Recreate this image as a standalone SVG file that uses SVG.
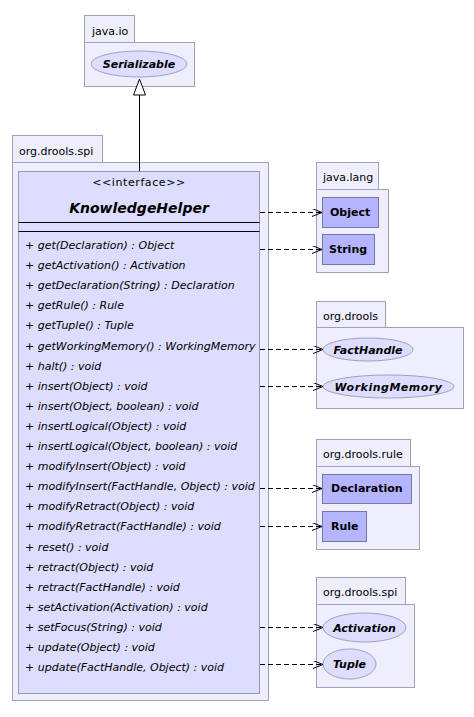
<svg xmlns="http://www.w3.org/2000/svg" width="474" height="717" viewBox="0 0 474 717">
<style>
.pkg{fill:#EEEEFC;stroke:#A0A0B8;stroke-width:1}
.tab{fill:#EEEEFC;stroke:#A0A0B8;stroke-width:1}
.plabel{font-family:"DejaVu Sans",sans-serif;font-size:11px;fill:#000}
.cls{fill:#B4B4FF;stroke:#7878A8;stroke-width:1}
.ell{fill:#DDDDFF;stroke:#A0A0C0;stroke-width:1}
.cname{font-family:"DejaVu Sans",sans-serif;font-size:11px;font-weight:bold;fill:#000}
.iname{font-family:"DejaVu Sans",sans-serif;font-size:11px;font-weight:bold;font-style:italic;fill:#000}
.iface{fill:#DDDDFF;stroke:#9898B0;stroke-width:1}
.m{font-family:"DejaVu Sans",sans-serif;font-size:11px;font-style:italic;fill:#000}
.dep{fill:none;stroke:#000;stroke-width:1;stroke-dasharray:5,3;marker-end:url(#open)}
</style>
<defs>
<marker id="open" markerUnits="userSpaceOnUse" markerWidth="12" markerHeight="10" refX="10" refY="4" orient="auto">
<path d="M0,0 L10,4 L0,8" fill="none" stroke="#000" stroke-width="1"/>
</marker>
</defs>

<g id="pkg-java-io">
<rect class="tab" x="84.5" y="15.5" width="50" height="27"/>
<rect class="pkg" x="84.5" y="42.5" width="110" height="44"/>
<text class="plabel" x="92" y="35">java.io</text>
</g>
<g id="Serializable">
<ellipse class="ell" cx="139" cy="64" rx="48" ry="13"/>
<text class="iname" x="139" y="68" text-anchor="middle">Serializable</text>
</g>

<g id="pkg-org-drools-spi">
<rect class="tab" x="12.5" y="135.5" width="90" height="27"/>
<rect class="pkg" x="12.5" y="162.5" width="256" height="538"/>
<text class="plabel" x="19" y="155">org.drools.spi</text>
</g>

<g id="KnowledgeHelper">
<rect class="iface" x="18.5" y="171.5" width="241" height="522"/>
<text class="plabel" x="139" y="186" text-anchor="middle" letter-spacing="0.6">&lt;&lt;interface&gt;&gt;</text>
<text class="iname" x="139" y="213" text-anchor="middle" style="font-size:14px">KnowledgeHelper</text>
<line x1="18.5" y1="222.5" x2="259.5" y2="222.5" stroke="#000"/>
<line x1="18.5" y1="231.5" x2="259.5" y2="231.5" stroke="#000"/>
<text class="m" x="25" y="249">+ get(Declaration) : Object</text>
<text class="m" x="25" y="269.1">+ getActivation() : Activation</text>
<text class="m" x="25" y="289.2">+ getDeclaration(String) : Declaration</text>
<text class="m" x="25" y="309.3">+ getRule() : Rule</text>
<text class="m" x="25" y="329.4">+ getTuple() : Tuple</text>
<text class="m" x="25" y="349.5">+ getWorkingMemory() : WorkingMemory</text>
<text class="m" x="25" y="369.6">+ halt() : void</text>
<text class="m" x="25" y="389.7">+ insert(Object) : void</text>
<text class="m" x="25" y="409.8">+ insert(Object, boolean) : void</text>
<text class="m" x="25" y="429.9">+ insertLogical(Object) : void</text>
<text class="m" x="25" y="450">+ insertLogical(Object, boolean) : void</text>
<text class="m" x="25" y="470.1">+ modifyInsert(Object) : void</text>
<text class="m" x="25" y="490.2">+ modifyInsert(FactHandle, Object) : void</text>
<text class="m" x="25" y="510.3">+ modifyRetract(Object) : void</text>
<text class="m" x="25" y="530.4">+ modifyRetract(FactHandle) : void</text>
<text class="m" x="25" y="550.5">+ reset() : void</text>
<text class="m" x="25" y="570.6">+ retract(Object) : void</text>
<text class="m" x="25" y="590.7">+ retract(FactHandle) : void</text>
<text class="m" x="25" y="610.8">+ setActivation(Activation) : void</text>
<text class="m" x="25" y="630.9">+ setFocus(String) : void</text>
<text class="m" x="25" y="651">+ update(Object) : void</text>
<text class="m" x="25" y="671.1">+ update(FactHandle, Object) : void</text>
</g>

<g id="pkg-java-lang">
<rect class="tab" x="316.5" y="162.5" width="62" height="27"/>
<rect class="pkg" x="316.5" y="189.5" width="72" height="83"/>
<text class="plabel" x="323" y="181">java.lang</text>
</g>
<g id="Object">
<rect class="cls" x="322.5" y="197.5" width="56" height="30"/>
<text class="cname" x="330" y="216">Object</text>
</g>
<g id="String">
<rect class="cls" x="322.5" y="234.5" width="52" height="30"/>
<text class="cname" x="329" y="253">String</text>
</g>

<g id="pkg-org-drools">
<rect class="tab" x="316.5" y="301.5" width="69" height="26"/>
<rect class="pkg" x="316.5" y="327.5" width="147" height="81"/>
<text class="plabel" x="323" y="320">org.drools</text>
</g>
<g id="FactHandle">
<ellipse class="ell" cx="368" cy="349.5" rx="45" ry="11.5"/>
<text class="iname" x="368" y="353.5" text-anchor="middle">FactHandle</text>
</g>
<g id="WorkingMemory">
<ellipse class="ell" cx="388.5" cy="386.5" rx="65.5" ry="11.5"/>
<text class="iname" x="388.5" y="390.5" text-anchor="middle" letter-spacing="0.5">WorkingMemory</text>
</g>

<g id="pkg-org-drools-rule">
<rect class="tab" x="316.5" y="439.5" width="94" height="27"/>
<rect class="pkg" x="316.5" y="466.5" width="103" height="83"/>
<text class="plabel" x="323" y="458">org.drools.rule</text>
</g>
<g id="Declaration">
<rect class="cls" x="322.5" y="474.5" width="89" height="29"/>
<text class="cname" x="331" y="492">Declaration</text>
</g>
<g id="Rule">
<rect class="cls" x="322.5" y="511.5" width="44" height="30"/>
<text class="cname" x="331" y="530">Rule</text>
</g>

<g id="pkg-org-drools-spi-2">
<rect class="tab" x="316.5" y="577.5" width="89" height="27"/>
<rect class="pkg" x="316.5" y="604.5" width="98" height="83"/>
<text class="plabel" x="323" y="596">org.drools.spi</text>
</g>
<g id="Activation">
<ellipse class="ell" cx="364.5" cy="627.5" rx="41.5" ry="14.5"/>
<text class="iname" x="364.5" y="631.5" text-anchor="middle">Activation</text>
</g>
<g id="Tuple">
<ellipse class="ell" cx="349.5" cy="664" rx="26.5" ry="15"/>
<text class="iname" x="349.5" y="668" text-anchor="middle">Tuple</text>
</g>

<g id="connectors">
<line x1="139.5" y1="95" x2="139.5" y2="171" stroke="#000" stroke-width="1"/>
<polygon points="139.5,79 133.5,95 145.5,95" fill="#fff" stroke="#000" stroke-width="1"/>
<line class="dep" x1="260" y1="212.5" x2="322" y2="212.5"/>
<line class="dep" x1="260" y1="249.5" x2="322" y2="249.5"/>
<line class="dep" x1="260" y1="349.5" x2="323" y2="349.5"/>
<line class="dep" x1="260" y1="386.5" x2="323" y2="386.5"/>
<line class="dep" x1="260" y1="488.5" x2="322" y2="488.5"/>
<line class="dep" x1="260" y1="526.5" x2="322" y2="526.5"/>
<line class="dep" x1="260" y1="627.5" x2="323" y2="627.5"/>
<line class="dep" x1="260" y1="664.5" x2="323" y2="664.5"/>
</g>
</svg>
